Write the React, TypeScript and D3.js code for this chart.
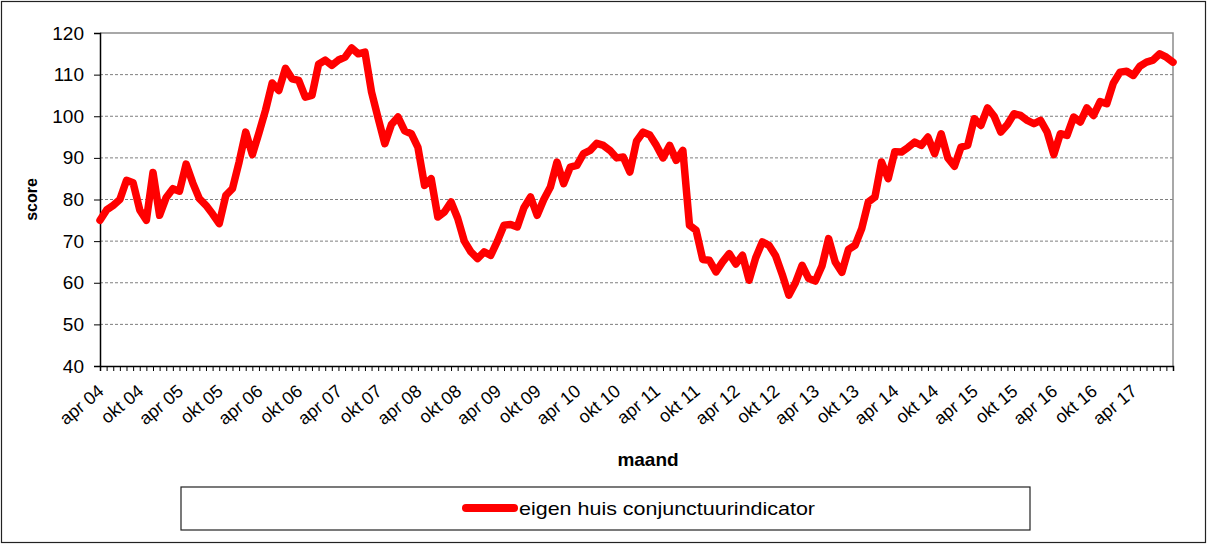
import React, { useRef, useEffect } from "react";
import * as d3 from "d3";

// monthly score, apr 2004 .. okt 2017
const score = [
  75, 77.5, 78.6, 80, 84.6, 84, 77.5, 75, 86.5, 76.2,
  80.5, 82.6, 82, 88.5, 84, 80.2, 78.6, 76.5, 74.2, 81,
  82.6, 89, 96.2, 90.8, 96, 101.5, 108, 106.2, 111.5, 109,
  108.6, 104.6, 105, 112.5, 113.5, 112.2, 113.5, 114.2, 116.4, 115,
  115.4, 105.8, 99.5, 93.4, 98, 99.8, 96.5, 95.8, 92.5, 83.4,
  85, 75.8, 77, 79.4, 75.5, 70, 67.4, 65.8, 67.4, 66.6,
  70, 73.8, 74, 73.4, 78, 80.6, 76.2, 80, 83, 89,
  83.8, 87.8, 88.2, 91, 91.8, 93.5, 93, 91.8, 90, 90.2,
  86.6, 94, 96.2, 95.5, 93, 90, 93, 89.4, 91.8, 73.8,
  72.6, 65.6, 65.4, 62.6, 65, 67, 64.5, 66.6, 60.6, 66,
  69.8, 69, 66.5, 62, 57, 60, 64.2, 61, 60.4, 64,
  70.6, 65, 62.5, 68, 69, 73, 79.4, 80.6, 89, 85,
  91.5, 91.4, 92.5, 93.8, 93, 95, 91, 95.8, 90, 88,
  92.6, 93, 99.4, 97.8, 102, 100, 96.2, 98, 100.6, 100.2,
  99, 98.2, 99, 96.2, 90.8, 95.8, 95.4, 99.8, 98.6, 102,
  100.2, 103.5, 103, 108, 110.6, 110.8, 109.8, 112, 113, 113.5,
  115, 114.2, 113,
];

const tickLabels = [
  "apr 04", "okt 04", "apr 05", "okt 05", "apr 06", "okt 06", "apr 07",
  "okt 07", "apr 08", "okt 08", "apr 09", "okt 09", "apr 10", "okt 10",
  "apr 11", "okt 11", "apr 12", "okt 12", "apr 13", "okt 13", "apr 14",
  "okt 14", "apr 15", "okt 15", "apr 16", "okt 16", "apr 17",
];

const yTicks = [40, 50, 60, 70, 80, 90, 100, 110, 120];

const seriesName = "eigen huis conjunctuurindicator";

const font = "Arial, 'Liberation Sans', sans-serif";

const App = () => {
  const chartRef = useRef<HTMLDivElement>(null);

  useEffect(() => {
    const width = 1207;
    const height = 545;
    const left = 100;
    const right = 1173;
    const top = 33;
    const bottom = 366;

    const x = d3.scaleLinear().domain([0, score.length - 1]).range([left, right]);
    const y = d3.scaleLinear().domain([40, 120]).range([bottom, top]);

    const svg = d3.create("svg")
      .attr("width", width)
      .attr("height", height)
      .attr("viewBox", [0, 0, width, height])
      .style("position", "absolute")
      .style("left", "0px")
      .style("top", "0px")
      .style("background", "#fff");

    // outer frame
    svg.append("rect")
      .attr("x", 1.5).attr("y", 1.5)
      .attr("width", width - 3).attr("height", height - 4)
      .attr("fill", "#fff")
      .attr("stroke", "#222")
      .attr("stroke-width", 1.2);

    // gridlines
    svg.append("g")
      .selectAll("line")
      .data(yTicks.filter(t => t > 40 && t < 120))
      .join("line")
      .attr("x1", left).attr("x2", right)
      .attr("y1", d => y(d)).attr("y2", d => y(d))
      .attr("stroke", "#7f7f7f")
      .attr("stroke-dasharray", "3,2");

    // plot frame top + right
    svg.append("path")
      .attr("d", `M${left},${y(120)}H${right}V${bottom}`)
      .attr("fill", "none")
      .attr("stroke", "#8c8c8c")
      .attr("stroke-width", 1.5);

    // y axis
    const yAxis = svg.append("g")
      .attr("transform", `translate(${left},0)`)
      .call(d3.axisLeft(y).tickValues(yTicks).tickSize(6).tickPadding(10))
      .call(g => g.select(".domain").attr("stroke", "#000").attr("stroke-width", 1.5));
    yAxis.selectAll("text")
      .style("font", `19px ${font}`)
      .attr("fill", "#000");
    yAxis.selectAll(".tick line").attr("stroke", "#000");

    // x axis with a tick every month
    const xAxis = svg.append("g")
      .attr("transform", `translate(0,${bottom})`)
      .call(d3.axisBottom(x).tickValues(d3.range(score.length)).tickSize(5).tickFormat(() => ""))
      .call(g => g.select(".domain").attr("stroke", "#000").attr("stroke-width", 1.5));
    xAxis.selectAll(".tick line").attr("stroke", "#000");

    svg.append("g")
      .selectAll("text")
      .data(tickLabels)
      .join("text")
      .attr("transform", (d, i) => `translate(${x(i * 6) + 5},${bottom + 27}) rotate(-40)`)
      .attr("text-anchor", "end")
      .style("font", `18px ${font}`)
      .attr("fill", "#000")
      .text(d => d);

    // axis titles
    svg.append("text")
      .attr("transform", `translate(37,${(top + bottom) / 2}) rotate(-90)`)
      .attr("text-anchor", "middle")
      .style("font", `bold 16px ${font}`)
      .text("score");

    svg.append("text")
      .attr("x", 648)
      .attr("y", 466)
      .attr("text-anchor", "middle")
      .style("font", `bold 19px ${font}`)
      .text("maand");

    // series
    const line = d3.line<number>()
      .x((d, i) => x(i))
      .y(d => y(d));

    svg.append("path")
      .datum(score)
      .attr("fill", "none")
      .attr("stroke", "#ff0000")
      .attr("stroke-width", 7.5)
      .attr("stroke-linejoin", "round")
      .attr("stroke-linecap", "round")
      .attr("d", line);

    // legend
    svg.append("rect")
      .attr("x", 181).attr("y", 487)
      .attr("width", 849).attr("height", 43)
      .attr("fill", "#fff")
      .attr("stroke", "#222")
      .attr("stroke-width", 1.2);

    svg.append("line")
      .attr("x1", 466).attr("x2", 514)
      .attr("y1", 508).attr("y2", 508)
      .attr("stroke", "#ff0000")
      .attr("stroke-width", 8)
      .attr("stroke-linecap", "round");

    svg.append("text")
      .attr("x", 519)
      .attr("y", 515)
      .attr("textLength", 296)
      .attr("lengthAdjust", "spacingAndGlyphs")
      .style("font", `19px ${font}`)
      .text(seriesName);

    chartRef.current!.innerHTML = "";
    chartRef.current!.appendChild(svg.node()!);
  }, []);

  return <div ref={chartRef} />;
};

export default App;
